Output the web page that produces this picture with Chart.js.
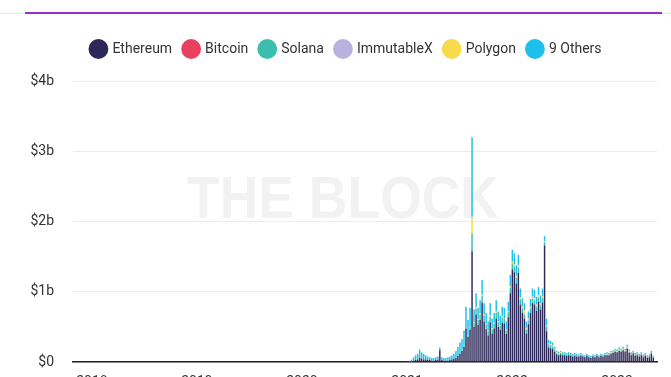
<!DOCTYPE html>
<html>
<head>
<meta charset="utf-8">
<script src="https://cdn.jsdelivr.net/npm/chart.js@4/dist/chart.umd.min.js"></script>
<style>
  html, body { margin: 0; padding: 0; background: #fff; overflow: hidden; }
  #wrap { width: 671px; height: 395px; position: relative; }
</style>
</head>
<body>
<div id="wrap"><canvas id="chart"></canvas></div>
<script>
// weekly volume, $ billions, first week starting 2021-01-03
const firstWeek = Date.UTC(2021, 0, 3);

const ethereum = [
    0.00, 0.01, 0.01, 0.02, 0.03, 0.04, 0.06, 0.05, 0.04, 0.04,
    0.03, 0.03, 0.02, 0.02, 0.03, 0.03, 0.17, 0.03, 0.02, 0.02,
    0.02, 0.03, 0.04, 0.05, 0.06, 0.09, 0.12, 0.16, 0.22, 0.48,
    0.36, 0.46, 1.58, 0.50, 0.68, 0.53, 0.60, 0.85, 0.58, 0.47,
    0.38, 0.57, 0.41, 0.48, 0.62, 0.50, 0.46, 0.56, 0.55, 0.40,
    0.64, 0.98, 1.32, 1.28, 1.12, 1.27, 0.82, 0.70, 0.62, 0.41,
    0.54, 0.70, 0.84, 0.82, 0.73, 0.86, 0.75, 0.85, 1.66, 0.44,
    0.21, 0.20, 0.19, 0.15, 0.11, 0.10, 0.11, 0.10, 0.10, 0.09,
    0.10, 0.09, 0.08, 0.09, 0.08, 0.08, 0.09, 0.08, 0.07, 0.09,
    0.07, 0.06, 0.08, 0.07, 0.09, 0.07, 0.09, 0.08, 0.10, 0.10,
    0.10, 0.12, 0.13, 0.15, 0.14, 0.16, 0.15, 0.17, 0.15, 0.19,
    0.13, 0.10, 0.12, 0.09, 0.10, 0.08, 0.10, 0.07, 0.09, 0.06,
    0.07, 0.12, 0.06
];
const bitcoin = [
    0, 0, 0, 0, 0, 0, 0, 0, 0, 0,
    0, 0, 0, 0, 0, 0, 0, 0, 0, 0,
    0, 0, 0, 0, 0, 0, 0, 0, 0, 0,
    0, 0, 0, 0, 0, 0, 0, 0, 0, 0,
    0, 0, 0, 0, 0, 0, 0, 0, 0, 0,
    0, 0, 0, 0, 0, 0, 0, 0, 0, 0,
    0, 0, 0, 0, 0, 0, 0, 0, 0, 0,
    0, 0, 0, 0, 0, 0, 0, 0, 0, 0,
    0, 0, 0, 0, 0, 0, 0, 0, 0, 0,
    0, 0, 0, 0, 0, 0, 0, 0, 0, 0,
    0, 0, 0, 0, 0, 0, 0, 0, 0, 0.01,
    0.01, 0.01, 0.01, 0.01, 0.01, 0.01, 0.01, 0.01, 0.01, 0.01,
    0.01, 0.01, 0.01
];
const solana = [
    0, 0, 0, 0, 0, 0, 0, 0, 0, 0,
    0, 0, 0, 0, 0, 0, 0, 0, 0, 0,
    0, 0, 0, 0, 0.01, 0.01, 0.01, 0.01, 0.02, 0.02,
    0.02, 0.03, 0.25, 0.06, 0.08, 0.07, 0.08, 0.09, 0.08, 0.07,
    0.06, 0.08, 0.06, 0.07, 0.08, 0.07, 0.06, 0.07, 0.07, 0.05,
    0.07, 0.08, 0.08, 0.08, 0.08, 0.08, 0.07, 0.06, 0.06, 0.05,
    0.05, 0.06, 0.06, 0.06, 0.06, 0.06, 0.06, 0.06, 0.04, 0.06,
    0.04, 0.04, 0.03, 0.03, 0.02, 0.02, 0.02, 0.02, 0.02, 0.02,
    0.02, 0.02, 0.02, 0.02, 0.02, 0.01, 0.02, 0.01, 0.01, 0.01,
    0.01, 0.01, 0.01, 0.01, 0.01, 0.01, 0.01, 0.01, 0.01, 0.01,
    0.01, 0.01, 0.01, 0.01, 0.01, 0.01, 0.01, 0.01, 0.01, 0.01,
    0.01, 0.01, 0.01, 0.01, 0.01, 0.01, 0.01, 0.01, 0.01, 0.01,
    0.01, 0.01, 0.01
];
const immutableX = [
    0, 0, 0, 0, 0, 0, 0, 0, 0, 0,
    0, 0, 0, 0, 0, 0, 0, 0, 0, 0,
    0, 0, 0, 0, 0, 0, 0, 0, 0, 0,
    0, 0, 0, 0, 0, 0, 0, 0, 0, 0,
    0, 0, 0, 0, 0, 0, 0, 0, 0, 0,
    0, 0, 0.01, 0.01, 0.01, 0.01, 0.01, 0.01, 0.01, 0.01,
    0.01, 0.01, 0.01, 0.01, 0.01, 0.01, 0.01, 0.01, 0.01, 0.01,
    0.01, 0.01, 0.01, 0, 0, 0, 0, 0, 0, 0,
    0, 0, 0, 0, 0, 0, 0, 0, 0, 0,
    0, 0, 0, 0, 0, 0, 0, 0, 0, 0,
    0, 0, 0, 0, 0, 0, 0, 0, 0, 0,
    0, 0, 0, 0, 0, 0, 0, 0, 0, 0,
    0, 0, 0
];
const polygon = [
    0, 0, 0, 0, 0, 0, 0, 0, 0, 0,
    0, 0, 0, 0, 0, 0, 0, 0, 0, 0,
    0, 0, 0, 0, 0, 0, 0, 0, 0, 0,
    0, 0, 0.24, 0.01, 0.02, 0.01, 0.02, 0.02, 0.02, 0.01,
    0.01, 0.02, 0.01, 0.01, 0.02, 0.01, 0.01, 0.02, 0.01, 0.01,
    0.02, 0.02, 0.02, 0.02, 0.02, 0.02, 0.02, 0.03, 0.05, 0.02,
    0.02, 0.02, 0.02, 0.02, 0.02, 0.02, 0.02, 0.02, 0.01, 0.02,
    0.01, 0.01, 0.01, 0.01, 0.01, 0.01, 0.01, 0, 0, 0,
    0, 0, 0, 0, 0, 0, 0, 0, 0, 0,
    0, 0, 0, 0, 0, 0, 0, 0, 0, 0.01,
    0, 0.01, 0.01, 0.01, 0.01, 0.01, 0.01, 0.01, 0.01, 0.01,
    0.01, 0, 0, 0, 0, 0, 0, 0, 0, 0,
    0, 0, 0
];
const others = [
    0.01, 0.01, 0.03, 0.05, 0.07, 0.08, 0.12, 0.09, 0.08, 0.06,
    0.05, 0.04, 0.04, 0.04, 0.04, 0.05, 0.04, 0.04, 0.04, 0.04,
    0.05, 0.05, 0.06, 0.07, 0.09, 0.12, 0.15, 0.16, 0.21, 0.29,
    0.22, 0.28, 1.13, 0.18, 0.20, 0.16, 0.18, 0.21, 0.16, 0.15,
    0.13, 0.17, 0.14, 0.14, 0.16, 0.14, 0.13, 0.14, 0.14, 0.12,
    0.13, 0.16, 0.17, 0.16, 0.15, 0.15, 0.13, 0.11, 0.10, 0.09,
    0.10, 0.11, 0.12, 0.12, 0.11, 0.12, 0.11, 0.11, 0.07, 0.09,
    0.05, 0.04, 0.04, 0.03, 0.02, 0.02, 0.02, 0.02, 0.02, 0.02,
    0.02, 0.02, 0.02, 0.02, 0.02, 0.02, 0.02, 0.02, 0.02, 0.02,
    0.02, 0.02, 0.02, 0.02, 0.02, 0.02, 0.02, 0.02, 0.02, 0.02,
    0.02, 0.02, 0.02, 0.02, 0.02, 0.03, 0.02, 0.03, 0.02, 0.03,
    0.02, 0.02, 0.02, 0.02, 0.02, 0.02, 0.02, 0.02, 0.02, 0.02,
    0.02, 0.02, 0.01
];

const yTicks = [0, 1, 2, 3, 4];
const yearTicks = [2018, 2019, 2020, 2021, 2022, 2023];

// week start -> fractional year, so bars sit on a linear year axis
const toYear = (ms) => {
    const y = new Date(ms).getUTCFullYear();
    const a = Date.UTC(y, 0, 1), b = Date.UTC(y + 1, 0, 1);
    return y + (ms - a) / (b - a);
};
const weeks = ethereum.map((_, i) => toYear(firstWeek + i * 7 * 86400000));

const series = [
    ['Ethereum', ethereum, '#2d2858'],
    ['Bitcoin', bitcoin, '#e9405f'],
    ['Solana', solana, '#3dbdae'],
    ['ImmutableX', immutableX, '#b9b2e0'],
    ['Polygon', polygon, '#f8da4e'],
    ['9 Others', others, '#1dc0ea'],
];

const FONT = 'Roboto, "Noto Sans", sans-serif';

const decor = {
    id: 'decor',
    beforeDraw(chart) {
        const ctx = chart.ctx;
        ctx.save();
        ctx.fillStyle = '#e6e6e6';
        ctx.fillRect(0, 13, 671, 1);
        ctx.fillStyle = '#9a2fc4';
        ctx.fillRect(25, 12, 637, 2);
        ctx.restore();
    },
    beforeDatasetsDraw(chart) {
        const ctx = chart.ctx;
        ctx.save();
        ctx.fillStyle = '#f2f2f2';
        ctx.font = 'bold 60px "Liberation Sans", Arial, sans-serif';
        ctx.textAlign = 'center';
        ctx.textBaseline = 'alphabetic';
        ctx.fillText('THE BLOCK', 343, 218, 312);
        ctx.restore();
    }
};

// extra room under the legend, and nudge it a little right like the original
const legendGap = {
    id: 'legendGap',
    beforeInit(chart) {
        const fit = chart.legend.fit;
        chart.legend.fit = function () {
            fit.bind(chart.legend)();
            this.height += 15;
        };
    },
    afterLayout(chart) {
        chart.legend.left += 7;
        chart.legend.right += 7;
    }
};

new Chart(document.getElementById('chart'), {
    type: 'bar',
    data: {
        labels: weeks,
        datasets: series.map(([label, data, color]) => ({
            label: label,
            data: data,
            backgroundColor: color,
            borderWidth: 0,
            barPercentage: 0.72,
            categoryPercentage: 1,
        }))
    },
    options: {
        responsive: true,
        maintainAspectRatio: false,
        animation: false,
        layout: { padding: { left: 22, right: 14, top: 30 } },
        scales: {
            x: {
                type: 'linear',
                stacked: true,
                min: 2017.82,
                max: 2023.38,
                offset: false,
                afterBuildTicks: (s) => { s.ticks = yearTicks.map(v => ({ value: v })); },
                ticks: {
                    callback: (v) => String(v),
                    color: '#333',
                    font: { family: FONT, size: 14 },
                    padding: 4,
                    maxRotation: 0,
                },
                grid: { display: false },
                border: { display: true, color: '#222', width: 1.5 },
            },
            y: {
                stacked: true,
                min: 0,
                max: 4,
                afterBuildTicks: (s) => { s.ticks = yTicks.map(v => ({ value: v })); },
                afterFit: (s) => { s.width = 51; },
                ticks: {
                    callback: (v) => v === 0 ? '$0' : '$' + v + 'b',
                    color: '#333',
                    font: { family: FONT, size: 14 },
                    padding: 19,
                },
                grid: { color: '#ececec', drawTicks: false },
                border: { display: false },
            }
        },
        plugins: {
            legend: {
                position: 'top',
                labels: {
                    usePointStyle: true,
                    pointStyle: 'circle',
                    boxWidth: 14,
                    boxHeight: 14,
                    padding: 12,
                    color: '#333',
                    font: { family: FONT, size: 14 },
                }
            },
            tooltip: { enabled: false }
        }
    },
    plugins: [decor, legendGap]
});
</script>
</body>
</html>
